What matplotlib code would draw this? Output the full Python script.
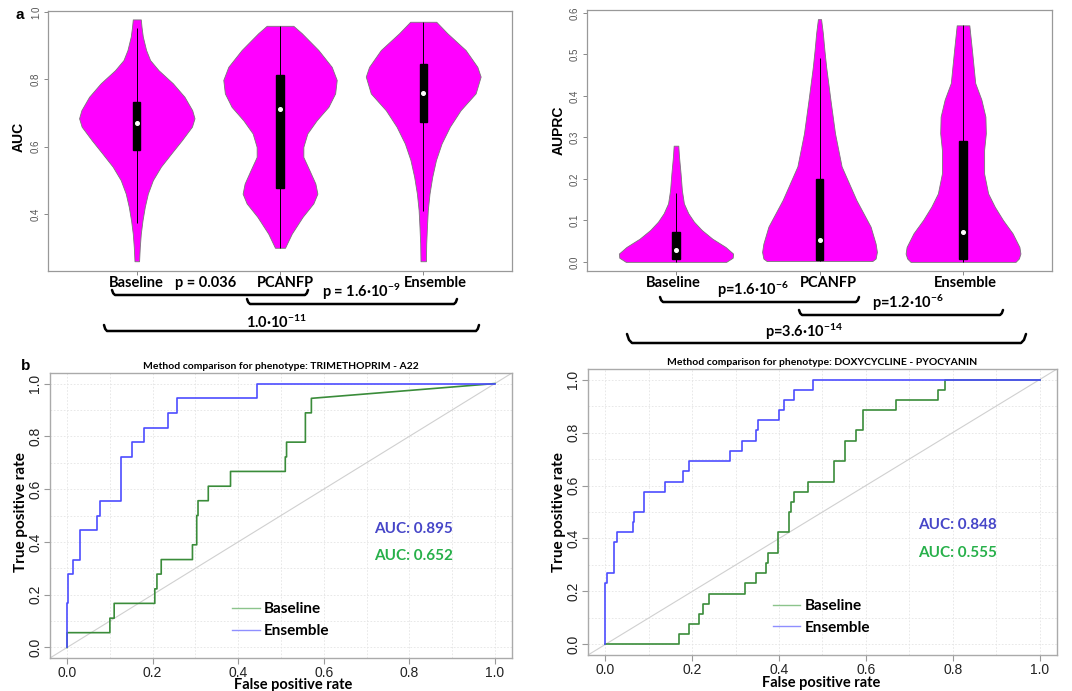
import numpy as np
import matplotlib
matplotlib.use("Agg")
import matplotlib.pyplot as plt
from matplotlib.patches import Rectangle
from matplotlib.lines import Line2D

plt.rcParams['font.family'] = ['Lato', 'DejaVu Sans']
plt.rcParams['mathtext.fontset'] = 'custom'
plt.rcParams['mathtext.rm'] = 'Lato:bold'
plt.rcParams['mathtext.it'] = 'Lato:bold'
plt.rcParams['mathtext.bf'] = 'Lato:bold'
plt.rcParams['mathtext.default'] = 'rm'

# ---- data: violins (outline = value, half width) ----
categories = ['Baseline', 'PCANFP', 'Ensemble']

auc_base_v = [0.978, 0.956, 0.927, 0.887, 0.857, 0.827, 0.788, 0.748, 0.708, 0.684, 0.659, 0.619, 0.579, 0.540, 0.500, 0.460, 0.421, 0.381, 0.341, 0.302, 0.259]
auc_base_w = [0.028, 0.033, 0.042, 0.065, 0.093, 0.152, 0.252, 0.333, 0.387, 0.403, 0.385, 0.315, 0.240, 0.168, 0.112, 0.077, 0.056, 0.040, 0.028, 0.021, 0.016]
auc_pca_v = [0.959, 0.937, 0.887, 0.837, 0.798, 0.758, 0.718, 0.678, 0.639, 0.599, 0.569, 0.530, 0.490, 0.460, 0.431, 0.391, 0.341, 0.299]
auc_pca_w = [0.093, 0.152, 0.268, 0.361, 0.396, 0.385, 0.338, 0.256, 0.191, 0.163, 0.163, 0.205, 0.247, 0.261, 0.233, 0.158, 0.082, 0.035]
auc_ens_v = [0.971, 0.937, 0.887, 0.837, 0.808, 0.758, 0.708, 0.659, 0.609, 0.560, 0.510, 0.460, 0.411, 0.361, 0.312, 0.259]
auc_ens_w = [0.091, 0.168, 0.296, 0.378, 0.401, 0.366, 0.261, 0.186, 0.128, 0.089, 0.063, 0.044, 0.032, 0.026, 0.021, 0.019]

auc_hi = [0.951, 0.959, 0.971]
auc_lo = [0.373, 0.299, 0.409]
auc_q3 = [0.733, 0.812, 0.846]
auc_q1 = [0.590, 0.478, 0.672]
auc_med = [0.671, 0.713, 0.760]

prc_base_v = [0.280, 0.254, 0.213, 0.173, 0.141, 0.117, 0.097, 0.077, 0.056, 0.036, 0.020, 0.010, 0.0]
prc_base_w = [0.016, 0.021, 0.032, 0.041, 0.055, 0.086, 0.125, 0.179, 0.253, 0.345, 0.398, 0.395, 0.350]
prc_pca_v = [0.585, 0.552, 0.511, 0.471, 0.391, 0.310, 0.230, 0.149, 0.085, 0.044, 0.024, 0.008, 0.002]
prc_pca_w = [0.011, 0.023, 0.034, 0.046, 0.076, 0.108, 0.154, 0.257, 0.356, 0.391, 0.400, 0.391, 0.368]
prc_ens_v = [0.570, 0.511, 0.431, 0.391, 0.350, 0.310, 0.270, 0.213, 0.165, 0.133, 0.101, 0.069, 0.036, 0.020, 0.008, 0.0]
prc_ens_w = [0.044, 0.062, 0.085, 0.128, 0.156, 0.159, 0.147, 0.147, 0.175, 0.221, 0.278, 0.345, 0.393, 0.400, 0.389, 0.366]

prc_hi = [0.167, 0.491, 0.570]
prc_lo = [0.0, 0.002, 0.0]
prc_q3 = [0.072, 0.200, 0.291]
prc_q1 = [0.008, 0.004, 0.007]
prc_med = [0.028, 0.052, 0.071]

# ---- data: ROC curves ----
a22_ens_fpr = [0, 0, 0.003, 0.003, 0.013, 0.013, 0.030, 0.030, 0.071, 0.071, 0.077, 0.077, 0.127, 0.127, 0.151, 0.151, 0.179, 0.179, 0.235, 0.235, 0.258, 0.258, 0.444, 0.444, 1.0]
a22_ens_tpr = [0, 0.167, 0.167, 0.278, 0.278, 0.333, 0.333, 0.444, 0.444, 0.5, 0.5, 0.556, 0.556, 0.722, 0.722, 0.778, 0.778, 0.833, 0.833, 0.889, 0.889, 0.944, 0.944, 1.0, 1.0]
a22_base_fpr = [0, 0, 0.100, 0.100, 0.110, 0.110, 0.205, 0.205, 0.210, 0.210, 0.220, 0.220, 0.293, 0.293, 0.303, 0.303, 0.306, 0.306, 0.330, 0.330, 0.382, 0.382, 0.510, 0.510, 0.513, 0.513, 0.557, 0.557, 0.571, 0.571, 1.0]
a22_base_tpr = [0, 0.056, 0.056, 0.111, 0.111, 0.167, 0.167, 0.222, 0.222, 0.278, 0.278, 0.333, 0.333, 0.389, 0.389, 0.5, 0.5, 0.556, 0.556, 0.611, 0.611, 0.667, 0.667, 0.722, 0.722, 0.778, 0.778, 0.889, 0.889, 0.944, 1.0]

pyo_ens_fpr = [0, 0, 0.004, 0.004, 0.021, 0.021, 0.026, 0.026, 0.063, 0.063, 0.066, 0.066, 0.088, 0.088, 0.090, 0.090, 0.138, 0.138, 0.179, 0.179, 0.192, 0.192, 0.288, 0.288, 0.315, 0.315, 0.347, 0.347, 0.352, 0.352, 0.400, 0.400, 0.412, 0.412, 0.435, 0.435, 0.478, 0.478, 1.0]
pyo_ens_tpr = [0, 0.231, 0.231, 0.269, 0.269, 0.385, 0.385, 0.423, 0.423, 0.462, 0.462, 0.5, 0.5, 0.538, 0.538, 0.577, 0.577, 0.615, 0.615, 0.654, 0.654, 0.692, 0.692, 0.731, 0.731, 0.769, 0.769, 0.808, 0.808, 0.846, 0.846, 0.885, 0.885, 0.923, 0.923, 0.962, 0.962, 1.0, 1.0]
pyo_base_fpr = [0, 0.170, 0.170, 0.192, 0.192, 0.215, 0.215, 0.224, 0.224, 0.239, 0.239, 0.321, 0.321, 0.347, 0.347, 0.370, 0.370, 0.374, 0.374, 0.398, 0.398, 0.424, 0.424, 0.428, 0.428, 0.434, 0.434, 0.466, 0.466, 0.527, 0.527, 0.551, 0.551, 0.578, 0.578, 0.594, 0.594, 0.670, 0.670, 0.767, 0.767, 0.783, 0.783, 1.0]
pyo_base_tpr = [0, 0, 0.038, 0.038, 0.077, 0.077, 0.115, 0.115, 0.154, 0.154, 0.192, 0.192, 0.231, 0.231, 0.269, 0.269, 0.308, 0.308, 0.346, 0.346, 0.423, 0.423, 0.5, 0.5, 0.538, 0.538, 0.577, 0.577, 0.615, 0.615, 0.692, 0.692, 0.769, 0.769, 0.808, 0.808, 0.885, 0.885, 0.923, 0.923, 0.962, 0.962, 1.0, 1.0]

a22_auc = ['AUC: 0.895', 'AUC: 0.652']
pyo_auc = ['AUC: 0.848', 'AUC: 0.555']

W, H = 1072, 691
fig = plt.figure(figsize=(W / 100, H / 100), dpi=100)


def rect(l, t, r, b):
    return [l / W, 1 - b / H, (r - l) / W, (b - t) / H]


# overlay in pixel coordinates for annotations
ov = fig.add_axes([0, 0, 1, 1], zorder=5)
ov.set_xlim(0, W)
ov.set_ylim(H, 0)
ov.axis('off')

MAG = '#ff00ff'


def violin_panel(ax, shapes, hi, lo, q3, q1, med, ylim, yticks, ylabel):
    for i, (v, w) in enumerate(shapes):
        pos = i + 1
        v = np.array(v)
        w = np.array(w)
        ax.fill_betweenx(v, pos - w, pos + w, facecolor=MAG, edgecolor='#777777', lw=0.6, zorder=2)
        ax.vlines(pos, lo[i], hi[i], color='black', lw=0.7, zorder=3)
        ax.add_patch(Rectangle((pos - 0.025, q1[i]), 0.05, q3[i] - q1[i], color='black', zorder=4))
        ax.plot(pos, med[i], 'o', color='white', ms=2.6, mec='white', zorder=5)
    ax.set_xlim(0.38, 3.62)
    ax.set_ylim(*ylim)
    ax.set_xticks([1, 2, 3])
    ax.set_xticklabels([])
    ax.set_yticks(yticks)
    ax.set_yticklabels([f'{t:.1f}' for t in yticks], rotation=90, va='center',
                       family='Liberation Sans', fontsize=7, color='#555555')
    ax.tick_params(color='#888888', length=3, width=0.7, pad=2)
    for s in ax.spines.values():
        s.set_color('#999999')
        s.set_linewidth(0.9)
    ax.set_ylabel(ylabel, family='Liberation Sans', fontweight='bold', fontsize=10)


ax1 = fig.add_axes(rect(48, 11, 512, 271))
violin_panel(ax1, [(auc_base_v, auc_base_w), (auc_pca_v, auc_pca_w), (auc_ens_v, auc_ens_w)],
             auc_hi, auc_lo, auc_q3, auc_q1, auc_med, (0.23, 1.003), [0.4, 0.6, 0.8, 1.0], 'AUC')
ax1.yaxis.set_label_coords(-0.048, 0.515)

ax2 = fig.add_axes(rect(587, 10, 1052, 271))
violin_panel(ax2, [(prc_base_v, prc_base_w), (prc_pca_v, prc_pca_w), (prc_ens_v, prc_ens_w)],
             prc_hi, prc_lo, prc_q3, prc_q1, prc_med, (-0.022, 0.607),
             [0.0, 0.1, 0.2, 0.3, 0.4, 0.5, 0.6], 'AUPRC')
ax2.yaxis.set_label_coords(-0.046, 0.54)


def bracket(x0, x1, y, h=5, w=3):
    ov.plot([x0, x0 + w * 0.4, x0 + w, x1 - w, x1 - w * 0.4, x1],
            [y - h, y - h * 0.35, y, y, y - h * 0.35, y - h],
            color='black', lw=1.8, solid_capstyle='round', solid_joinstyle='round')


lab_kw = dict(fontsize=10.5, fontweight='bold', va='center')
# left violin annotations
for name, x in zip(categories, [136, 285, 435]):
    ov.text(x, 283, name, ha='center', **lab_kw)
ov.text(206, 283, 'p = 0.036', ha='center', **lab_kw)
ov.text(322, 292, 'p = 1.6·10$^{-9}$', ha='left', **lab_kw)
ov.text(246, 322, '1.0·10$^{-11}$', ha='left', **lab_kw)
bracket(112, 308, 295)
bracket(247, 457, 304)
bracket(104, 479, 331, h=6)

# right violin annotations
for name, x in zip(categories, [673, 828, 965]):
    ov.text(x, 283, name, ha='center', **lab_kw)
ov.text(717, 290, 'p=1.6·10$^{-6}$', ha='left', **lab_kw)
ov.text(872, 303, 'p=1.2·10$^{-6}$', ha='left', **lab_kw)
ov.text(765, 332, 'p=3.6·10$^{-14}$', ha='left', **lab_kw)
bracket(660, 859, 302)
bracket(799, 1003, 315)
bracket(627, 1026, 343, h=9, w=5)

ov.text(20, 15, 'a', fontsize=11, fontweight='bold', ha='center', va='center', family='Liberation Sans')
ov.text(26, 366, 'b', fontsize=11, fontweight='bold', ha='center', va='center', family='Liberation Sans')

BLUE = '#4d4dff'
GREEN = '#3a8c3a'


def roc_panel(ax, title, base, ens, auc_txt):
    ax.set_xlim(-0.04, 1.04)
    ax.set_ylim(-0.04, 1.04)
    ax.set_xticks(np.arange(0, 1.01, 0.2))
    ax.set_yticks(np.arange(0, 1.01, 0.2))
    ax.set_xticks(np.arange(0, 1.01, 0.1), minor=True)
    ax.set_yticks(np.arange(0, 1.01, 0.1), minor=True)
    ax.grid(which='both', color='#e4e4e4', lw=0.6, ls=(0, (2, 2)))
    ax.set_axisbelow(True)
    ax.tick_params(which='minor', length=0)
    ax.tick_params(which='major', color='#999999', length=4, width=0.8, pad=1.5,
                   labelsize=10, labelcolor='#222222')
    ax.set_xticklabels([f'{t:.1f}' for t in np.arange(0, 1.01, 0.2)])
    ax.set_yticklabels([f'{t:.1f}' for t in np.arange(0, 1.01, 0.2)], rotation=90, va='center')
    for lbl in ax.get_xticklabels() + ax.get_yticklabels():
        lbl.set_family('Liberation Sans')
    for s in ax.spines.values():
        s.set_color('#aaaaaa')
        s.set_linewidth(1.0)
    ax.axline((0, 0), (1, 1), color='#d0d0d0', lw=0.8, zorder=1)
    ax.plot(base[0], base[1], color=GREEN, lw=1.2, zorder=3)
    ax.plot(ens[0], ens[1], color=BLUE, lw=1.2, zorder=4)
    ax.text(0.81, 0.45, auc_txt[0], color='#4646c8', fontsize=11, fontweight='bold', ha='center', va='center')
    ax.text(0.81, 0.345, auc_txt[1], color='#27b04a', fontsize=11, fontweight='bold', ha='center', va='center')
    handles = [Line2D([], [], color='#8cc48c', lw=1.0), Line2D([], [], color='#8f8fff', lw=1.0)]
    ax.legend(handles, ['Baseline', 'Ensemble'], loc='center left', bbox_to_anchor=(0.394, 0.133),
              frameon=False, borderpad=0, borderaxespad=0, handlelength=1.8, handletextpad=0.3,
              labelspacing=0.5, prop=dict(family='Lato', weight='bold', size=11))
    ax.set_title(title, fontsize=7.5, fontweight='bold', pad=3)
    ax.set_xlabel('False positive rate', fontsize=10.5, fontweight='bold')
    ax.set_ylabel('True positive rate', fontsize=11, fontweight='bold')


ax3 = fig.add_axes(rect(50, 373, 512, 658))
roc_panel(ax3, 'Method comparison for phenotype: TRIMETHOPRIM - A22',
          (a22_base_fpr, a22_base_tpr), (a22_ens_fpr, a22_ens_tpr), a22_auc)
ax3.yaxis.set_label_coords(-0.048, 0.512)
ax3.xaxis.set_label_coords(0.526, -0.07)

ax4 = fig.add_axes(rect(588, 369, 1057, 655))
roc_panel(ax4, 'Method comparison for phenotype: DOXYCYCLINE - PYOCYANIN',
          (pyo_base_fpr, pyo_base_tpr), (pyo_ens_fpr, pyo_ens_tpr), pyo_auc)
ax4.yaxis.set_label_coords(-0.047, 0.5)
ax4.xaxis.set_label_coords(0.497, -0.072)

fig.savefig('out.png', dpi=100)
